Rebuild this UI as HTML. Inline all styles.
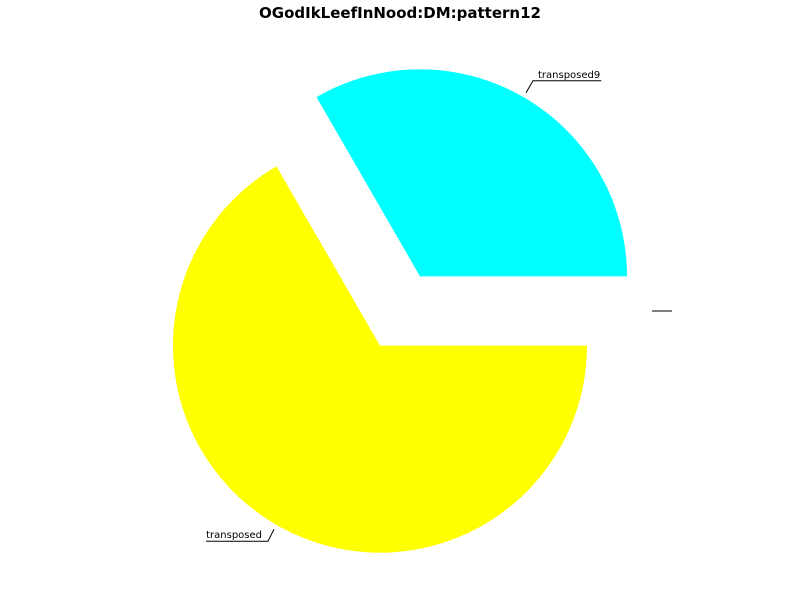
<!DOCTYPE html>
<html><head><meta charset="utf-8"><style>
html,body{margin:0;padding:0;background:#fff;}
svg{display:block;font-family:"DejaVu Sans","Liberation Sans",sans-serif;}
</style></head><body>
<svg id="chart" width="800" height="600">
<text x="400" y="18" text-anchor="middle" font-size="15" font-weight="bold">OGodIkLeefInNood:DM:pattern12</text>
<g id="slices"></g>
</svg>
<script>
const labels = ["", "transposed9", "transposed"];
const values = [0, 1, 2];
const colors = ["#ff0000", "#00ffff", "#ffff00"];
const explode = [40, 40, 40];
const startAngle = 0;

const cx = 400, cy = 311, r = 207;
const g = document.getElementById('slices');
const ns = 'http://www.w3.org/2000/svg';
const total = values.reduce((a, b) => a + b, 0);
let ang = startAngle;
values.forEach((v, i) => {
  const sweep = v / total * 360;
  const a0 = ang, a1 = ang + sweep, mid = (a0 + a1) / 2;
  ang = a1;
  const mr = mid * Math.PI / 180;
  const ox = cx + explode[i] * Math.cos(mr), oy = cy - explode[i] * Math.sin(mr);
  if (sweep > 0) {
    const p = document.createElementNS(ns, 'path');
    const x0 = ox + r * Math.cos(a0 * Math.PI / 180), y0 = oy - r * Math.sin(a0 * Math.PI / 180);
    const x1 = ox + r * Math.cos(a1 * Math.PI / 180), y1 = oy - r * Math.sin(a1 * Math.PI / 180);
    const large = sweep > 180 ? 1 : 0;
    p.setAttribute('d', `M${ox},${oy} L${x0},${y0} A${r},${r} 0 ${large} 0 ${x1},${y1} Z`);
    p.setAttribute('fill', colors[i]);
    
    
    g.appendChild(p);
  }
  const lr = 212;
  const px = ox + lr * Math.cos(mr), py = oy - lr * Math.sin(mr);
  const right = Math.cos(mr) >= -1e-9;
  const up = Math.sin(mr) > 0.1 ? -12 : (Math.sin(mr) < -0.1 ? 12 : 0);
  const ex = px + (up === 0 ? 0 : (right ? 7 : -6)), ey = py + up;
  let tw = 20;
  let t = null;
  if (labels[i]) {
    t = document.createElementNS(ns, 'text');
    t.setAttribute('font-size', '10');
    t.textContent = labels[i];
    
    
    g.appendChild(t);
    tw = t.getComputedTextLength() + 6;
    t.setAttribute('x', right ? ex + 5 : ex - tw);
    t.setAttribute('y', ey - 3);
  }
  const ux = right ? ex + tw : ex - tw;
  const line = document.createElementNS(ns, 'polyline');
  line.setAttribute('points', `${px},${py} ${ex},${ey} ${ux},${ey}`);
  line.setAttribute('fill', 'none');
  line.setAttribute('stroke', '#000');
  line.setAttribute('stroke-width', '1');
  
  
  g.appendChild(line);
});
</script>
</body></html>
